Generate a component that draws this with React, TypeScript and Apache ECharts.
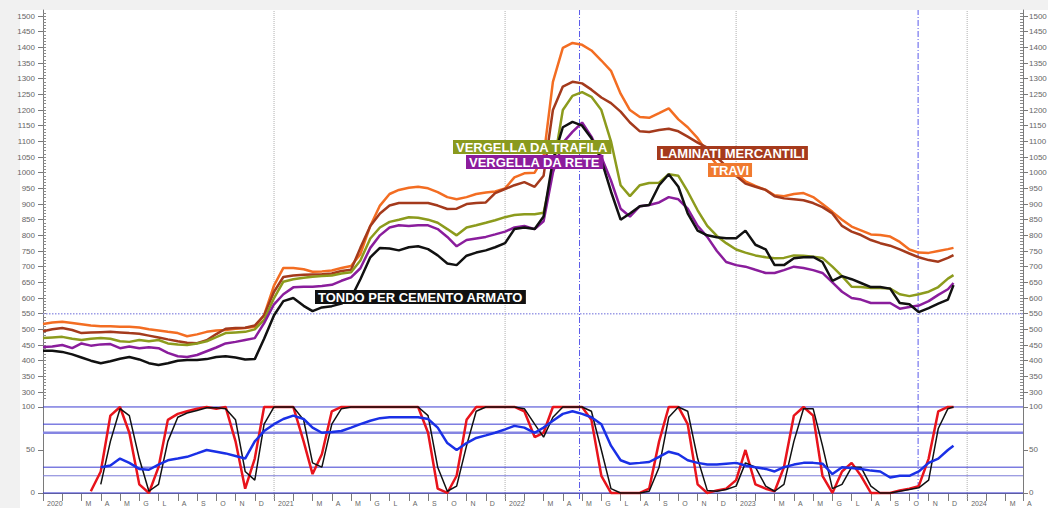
import React, { useEffect, useRef } from 'react';
import * as echarts from 'echarts';

// ---------- axis / tick labels ----------
const MONTH_INITIALS = ['G', 'F', 'M', 'A', 'M', 'G', 'L', 'A', 'S', 'O', 'N', 'D'];
const FIRST_YEAR = 2020;
const PRICE_TICKS = [300, 350, 400, 450, 500, 550, 600, 650, 700, 750, 800, 850, 900, 950, 1000, 1050, 1100, 1150, 1200, 1250, 1300, 1350, 1400, 1450, 1500];
const OSC_TICKS = [0, 50, 100];
const OSC_LEVELS = [100, 80, 70, 30, 20, 0];
const YEAR_LINES = ['2021-01-01', '2022-01-01', '2023-01-01', '2024-01-01'];
const EVENT_LINES = ['2022-04-27', '2023-10-15'];
const REFERENCE_PRICE = 550;

// ---------- dates (semi-monthly sampling) ----------
const DATES: string[] = [];
for (let y = 2020; y <= 2023; y++) {
  for (let m = 1; m <= 12; m++) {
    const mm = m < 10 ? '0' + m : '' + m;
    DATES.push(`${y}-${mm}-01`);
    if (!(y === 2023 && m === 12)) DATES.push(`${y}-${mm}-16`);
  }
}
DATES.push('2023-12-10');

// ---------- price series (€/t) ----------
const TONDO = [
  432, 432, 428, 420, 410,
  400, 392, 398, 406, 412,
  404, 392, 386, 392, 400,
  402, 402, 405, 412, 414,
  410, 404, 405, 470, 545,
  590, 600, 575, 558, 570,
  574, 582, 600, 660, 730,
  760, 758, 752, 762, 765,
  756, 736, 710, 705, 735,
  745, 752, 762, 775, 820,
  825, 820, 860, 1040, 1145,
  1162, 1150, 1110, 1040, 940,
  850, 870, 893, 897, 960,
  995, 955, 870, 815, 800,
  794, 791, 791, 815, 770,
  755, 705, 705, 727, 730,
  731, 715, 655, 670, 660,
  648, 635, 635, 630, 584,
  580, 555, 568, 582, 595,
  641,
];
const TRAVI = [
  517, 522, 524, 520, 516,
  512, 510, 510, 508, 508,
  506, 500, 496, 492, 488,
  478, 484, 492, 496, 498,
  502, 504, 508, 545, 640,
  696, 696, 692, 684, 685,
  688, 696, 702, 740, 830,
  895, 932, 945, 952, 955,
  950, 938, 922, 915, 922,
  932, 937, 940, 950, 985,
  998, 1000, 1050, 1290, 1398,
  1414, 1408, 1390, 1358, 1325,
  1252, 1200, 1178, 1175, 1190,
  1205, 1170, 1145, 1110, 1065,
  1025, 1012, 1000, 972, 958,
  945, 928, 925, 932, 935,
  922, 900, 875, 850, 828,
  816, 803, 801, 796, 779,
  755, 745, 744, 750, 756,
  760,
];
const LAMINATI = [
  494, 500, 504, 498, 488,
  490, 491, 492, 490, 488,
  486, 480, 474, 468, 462,
  457, 456, 465, 485, 502,
  504, 505, 512, 545, 620,
  667, 672, 674, 675, 676,
  678, 686, 690, 760, 830,
  870, 895, 903, 903, 903,
  903, 895, 884, 885, 900,
  903, 905, 935, 948, 960,
  970, 955, 990, 1200, 1275,
  1290, 1285, 1265, 1240, 1222,
  1195, 1160, 1132, 1130, 1136,
  1140, 1132, 1115, 1096, 1080,
  1050, 1020, 990, 965, 955,
  945, 925, 918, 915, 912,
  903, 890, 870, 830, 812,
  801, 785, 775, 767, 755,
  742, 730, 721, 716, 728,
  737,
];
const TRAFILA = [
  472, 474, 476, 470, 466,
  470, 472, 470, 462, 460,
  466, 462, 466, 455, 452,
  450, 455, 462, 475, 488,
  490, 492, 500, 530, 600,
  652, 660, 665, 668, 670,
  672, 678, 682, 720, 790,
  825, 843, 850, 858, 856,
  850, 840, 820, 800, 825,
  832, 840, 848, 858, 865,
  867, 867, 872, 1010, 1200,
  1245, 1257, 1242, 1200, 1100,
  960, 925, 960, 967, 968,
  995, 990, 940, 880, 830,
  798, 775, 755, 745, 736,
  730, 727, 728, 736, 735,
  732, 728, 700, 670, 636,
  635, 632, 632, 630, 612,
  606, 612, 620, 635, 662,
  673,
];
const RETE = [
  444, 445, 450, 440, 455,
  448, 452, 453, 440, 445,
  440, 443, 440, 425, 414,
  412, 418, 430, 442, 455,
  460, 466, 472, 520, 580,
  612, 634, 636, 636, 638,
  642, 655, 666, 695, 760,
  800, 825, 832, 830, 832,
  832, 820, 795, 765, 785,
  790, 795, 803, 812, 825,
  830, 820, 845, 1000, 1095,
  1130, 1160, 1115, 1050, 975,
  885, 860, 893, 897, 905,
  922, 915, 885, 830, 795,
  750, 715, 705, 700, 690,
  680, 680, 689, 700, 696,
  689, 680, 650, 620, 600,
  595, 584, 584, 584, 566,
  571, 576, 590, 610, 628,
  648,
];

// ---------- oscillator panel ----------
const OSC_FAST = [
  null, null, null, null, null,
  2, 25, 90, 100, 70,
  10, 0, 30, 85, 92,
  95, 98, 100, 98, 100,
  60, 5, 40, 100, 100,
  100, 100, 60, 22, 45,
  95, 100, 100, 100, 100,
  100, 100, 100, 100, 100,
  70, 5, 0, 20, 85,
  100, 100, 100, 100, 100,
  95, 65, 70, 100, 100,
  100, 100, 85, 20, 0,
  0, 0, 0, 5, 60,
  100, 100, 80, 10, 0,
  3, 5, 15, 50, 10,
  5, 2, 30, 90, 100,
  90, 20, 0, 25, 35,
  20, 0, 0, 0, 3,
  5, 8, 40, 95, 100,
  100,
];
const OSC_SLOW = [
  null, null, null, null, null,
  null, 10, 60, 98, 90,
  40, 2, 10, 60, 88,
  93, 96, 99, 99, 98,
  85, 25, 15, 80, 100,
  100, 100, 85, 35, 30,
  80, 98, 100, 100, 100,
  100, 100, 100, 100, 100,
  90, 30, 2, 8, 55,
  95, 100, 100, 100, 100,
  98, 80, 65, 88, 100,
  100, 100, 95, 50, 5,
  0, 0, 0, 2, 30,
  88, 100, 95, 40, 3,
  2, 4, 8, 35, 30,
  8, 2, 10, 60, 98,
  98, 55, 5, 10, 30,
  30, 8, 0, 0, 2,
  4, 6, 15, 75, 98,
  100,
];
const OSC_TREND = [
  null, null, null, null, null,
  null, 30, 32, 40, 35,
  28, 27, 33, 38, 40,
  42, 46, 50, 48, 46,
  43, 40, 60, 72, 80,
  86, 90, 86, 76, 70,
  71, 72, 76, 80, 84,
  87, 88, 88, 88, 88,
  86, 76, 58, 50, 58,
  64, 67, 70, 74, 78,
  76, 70, 76, 84, 92,
  95, 92, 88, 80, 55,
  38, 34, 35, 36, 42,
  48, 45, 38, 35, 33,
  33, 34, 35, 32, 30,
  28, 25, 30, 33, 35,
  35, 34, 22, 30, 29,
  28, 26, 25, 18, 20,
  20, 25, 35, 40, 50,
  55,
];

// months elapsed since Jan 1 of FIRST_YEAR
function toMonths(d: string): number {
  const [y, m, day] = d.split('-').map(Number);
  const dim = new Date(y, m, 0).getDate();
  return (y - FIRST_YEAR) * 12 + (m - 1) + (day - 1) / dim;
}

const X_MAX = 50.9;
const PRICE_MIN = 274.5;
const PRICE_MAX = 1519.2;
const OSC_MIN = -7;
const OSC_MAX = 108.1;
const MINOR_PRICE: number[] = [];
for (let v = 280; v <= 1510; v += 10) MINOR_PRICE.push(v);

function pairs(vals: (number | null)[]) {
  return vals.map((v, i) => [toMonths(DATES[i]), v]);
}

function refLine(name: string, data: number[][], xi: number, yi: number, lineStyle: any) {
  return {
    name,
    type: 'line',
    xAxisIndex: xi,
    yAxisIndex: yi,
    data,
    symbol: 'none',
    silent: true,
    lineStyle,
    itemStyle: { color: lineStyle.color },
    z: 1,
  };
}

function verticalSeries(xi: number, yi: number, lo: number, hi: number) {
  return [
    ...YEAR_LINES.map((d) =>
      refLine('Anno ' + d, [[toMonths(d), lo], [toMonths(d), hi]], xi, yi, {
        color: '#b0b0b0',
        type: 'dotted',
        width: 1,
      })
    ),
    ...EVENT_LINES.map((d) =>
      refLine('Evento ' + d, [[toMonths(d), lo], [toMonths(d), hi]], xi, yi, {
        color: '#5a5aea',
        type: [6, 2, 1, 2],
        width: 1,
      })
    ),
  ];
}

function levelStyle(v: number) {
  if (v === 70) return { color: '#8585e2', width: 2.5 };
  if (v === 20) return { color: '#7b7bd8', width: 1 };
  return { color: '#3c3cd2', width: 1 };
}

export default function App() {
  const ref = useRef<HTMLDivElement>(null);
  useEffect(() => {
    if (!ref.current) return;
    const chart = echarts.init(ref.current, undefined, { renderer: 'svg' });
    const font = 'Liberation Sans';
    const labelStyle = { fontSize: 8, color: '#666', fontFamily: font, formatter: (v: number) => String(v) };
    const axisLineStyle = { color: '#7a7a7a', width: 1 };

    const priceSeries = [
      { name: 'Travi', data: TRAVI, color: '#f36d22' },
      { name: 'Laminati mercantili', data: LAMINATI, color: '#a43a1c' },
      { name: 'Vergella da trafila', data: TRAFILA, color: '#8c9b1d' },
      { name: 'Vergella da rete', data: RETE, color: '#8a1d9c' },
      { name: 'Tondo per cemento armato', data: TONDO, color: '#111111' },
    ].map((s, i) => ({
      name: s.name,
      type: 'line',
      xAxisIndex: 0,
      yAxisIndex: 0,
      data: pairs(s.data),
      symbol: 'none',
      lineStyle: { color: s.color, width: 2.5 },
      itemStyle: { color: s.color },
      z: 3 + i,
    }));

    const upperRefs = [
      ...verticalSeries(0, 0, PRICE_MIN, PRICE_MAX),
      refLine('Riferimento', [[0, REFERENCE_PRICE], [X_MAX, REFERENCE_PRICE]], 0, 0, {
        color: '#9c9ce6',
        type: 'dotted',
        width: 1.5,
      }),
    ];

    const lowerRefs = [
      ...verticalSeries(1, 4, OSC_MIN, OSC_MAX),
      ...OSC_LEVELS.map((v) => refLine('Livello ' + v, [[0, v], [X_MAX, v]], 1, 4, levelStyle(v))),
    ];

    const oscSeries = [
      { name: 'Veloce', data: OSC_FAST, color: '#e8141c', width: 2.5 },
      { name: 'Lenta', data: OSC_SLOW, color: '#111111', width: 1.5 },
      { name: 'Tendenza', data: OSC_TREND, color: '#1a30e6', width: 2.5 },
    ].map((s, i) => ({
      name: s.name,
      type: 'line',
      xAxisIndex: 1,
      yAxisIndex: 4,
      data: pairs(s.data),
      symbol: 'none',
      connectNulls: false,
      lineStyle: { color: s.color, width: s.width },
      itemStyle: { color: s.color },
      z: 3 + i,
    }));

    const labels = [
      { text: 'TONDO PER CEMENTO ARMATO', x: 315, y: 290, bg: '#111111' },
      { text: 'VERGELLA DA TRAFILA', x: 453, y: 140, bg: '#8a9a1e' },
      { text: 'VERGELLA DA RETE', x: 466, y: 155, bg: '#8c1c9c' },
      { text: 'LAMINATI MERCANTILI', x: 657, y: 146, bg: '#a53a1c' },
      { text: 'TRAVI', x: 708, y: 163, bg: '#f07a30' },
    ];

    const priceAxisBase = {
      type: 'value',
      gridIndex: 0,
      min: PRICE_MIN,
      max: PRICE_MAX,
      splitLine: { show: false },
    };
    const oscAxisBase = {
      type: 'value',
      gridIndex: 1,
      min: OSC_MIN,
      max: OSC_MAX,
      splitLine: { show: false },
    };

    chart.setOption({
      animation: false,
      backgroundColor: '#f1f1f1',
      graphic: [
        { type: 'rect', z: -100, shape: { x: 20, y: 10, width: 1028, height: 498 }, style: { fill: '#ffffff' } },
        ...labels.map((l) => ({
          type: 'text',
          z: 100,
          x: l.x,
          y: l.y,
          style: {
            text: l.text,
            fill: '#ffffff',
            font: `bold 13px "${font}"`,
            backgroundColor: l.bg,
            padding: [1, 3, 0, 3],
            verticalAlign: 'top',
          },
        })),
      ],
      grid: [
        { left: 43, right: 25, top: 10, height: 390, outerBoundsMode: 'none', containLabel: false },
        { left: 43, right: 25, top: 400, height: 99, outerBoundsMode: 'none', containLabel: false },
      ],
      xAxis: [
        {
          type: 'value',
          gridIndex: 0,
          min: 0,
          max: X_MAX,
          axisLine: { show: false },
          axisTick: { show: false },
          axisLabel: { show: false },
          splitLine: { show: false },
        },
        {
          type: 'value',
          gridIndex: 1,
          min: 0,
          max: X_MAX,
          interval: 1,
          axisLine: { lineStyle: axisLineStyle },
          axisTick: { length: 8, lineStyle: { color: '#7a7a7a' } },
          axisLabel: {
            ...labelStyle,
            fontSize: 7,
            align: 'left',
            margin: 1,
            padding: [0, 0, 0, 4],
            formatter: (v: number) => {
              const m = Math.round(v) % 12;
              if (m === 0) return String(FIRST_YEAR + Math.round(v) / 12);
              if (m === 1) return '';
              return MONTH_INITIALS[m];
            },
          },
          splitLine: { show: false },
        },
      ],
      yAxis: [
        {
          ...priceAxisBase,
          position: 'left',
          axisLine: { show: true, lineStyle: axisLineStyle },
          axisTick: { show: true, length: 5, customValues: PRICE_TICKS, lineStyle: { color: '#7a7a7a' } },
          axisLabel: { ...labelStyle, margin: 8, customValues: PRICE_TICKS },
        },
        {
          ...priceAxisBase,
          position: 'left',
          axisLine: { show: false },
          axisTick: { show: true, inside: true, length: 3, customValues: MINOR_PRICE, lineStyle: { color: '#8a8a8a' } },
          axisLabel: { show: false },
        },
        {
          ...priceAxisBase,
          position: 'right',
          axisLine: { show: true, lineStyle: axisLineStyle },
          axisTick: { show: true, length: 5, customValues: PRICE_TICKS, lineStyle: { color: '#7a7a7a' } },
          axisLabel: { ...labelStyle, margin: 6, customValues: PRICE_TICKS },
        },
        {
          ...priceAxisBase,
          position: 'right',
          axisLine: { show: false },
          axisTick: { show: true, inside: true, length: 3, customValues: MINOR_PRICE, lineStyle: { color: '#8a8a8a' } },
          axisLabel: { show: false },
        },
        {
          ...oscAxisBase,
          position: 'left',
          axisLine: { show: true, lineStyle: axisLineStyle },
          axisTick: { show: true, length: 5, customValues: OSC_TICKS, lineStyle: { color: '#7a7a7a' } },
          axisLabel: { ...labelStyle, margin: 8, customValues: OSC_TICKS },
        },
        {
          ...oscAxisBase,
          position: 'right',
          axisLine: { show: true, lineStyle: axisLineStyle },
          axisTick: { show: true, length: 5, customValues: OSC_TICKS, lineStyle: { color: '#7a7a7a' } },
          axisLabel: { ...labelStyle, margin: 6, customValues: OSC_TICKS },
        },
      ],
      series: [...upperRefs, ...priceSeries, ...lowerRefs, ...oscSeries],
    });
    return () => chart.dispose();
  }, []);
  return (
    <div
      ref={ref}
      style={{ position: 'absolute', left: 0, top: 0, width: 1048, height: 508 }}
    />
  );
}
